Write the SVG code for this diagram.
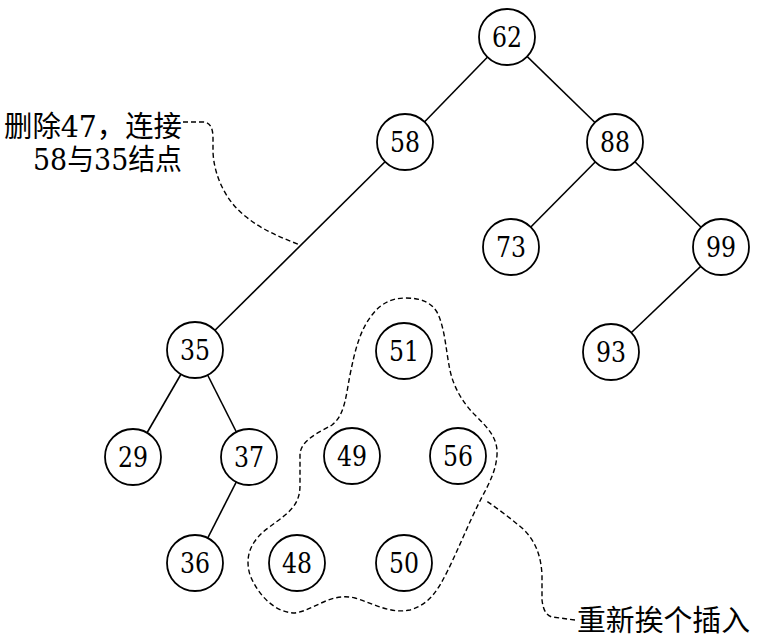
<svg xmlns="http://www.w3.org/2000/svg" width="768" height="643" viewBox="0 0 768 643">
<style>
.edge{stroke:#000;stroke-width:1.6;fill:none}
.dash{stroke:#000;stroke-width:1.4;fill:none;stroke-dasharray:5 3}
.node circle{fill:#fff;stroke:#000;stroke-width:1.8}
.node text{font-family:"DejaVu Serif",serif;font-size:27px;text-anchor:middle;fill:#000}
.lbl{font-family:"DejaVu Serif","Noto Sans CJK SC",serif;font-size:29px;fill:#000}
</style>
<rect width="768" height="643" fill="#fff"/>
<g id="connectors">
<line class="edge" x1="507" y1="37" x2="405" y2="142"/>
<line class="edge" x1="507" y1="37" x2="615" y2="142"/>
<line class="edge" x1="615" y1="142" x2="511" y2="247"/>
<line class="edge" x1="615" y1="142" x2="721" y2="247"/>
<line class="edge" x1="721" y1="247" x2="611" y2="352"/>
<line class="edge" x1="405" y1="142" x2="195" y2="350"/>
<line class="edge" x1="195" y1="350" x2="133" y2="457"/>
<line class="edge" x1="195" y1="350" x2="249" y2="457"/>
<line class="edge" x1="249" y1="457" x2="195" y2="563"/>
</g>
<g id="annotations">
<path class="dash" d="M183,122 L203,122 C210,122 213,128 213,138 L213,152 C214,175 225,200 245,216 C262,230 280,237 300,245"/>
<path class="dash" d="M575,620 L552,617 C545,615 543,608 542,600 L542,575 C541,555 535,540 522,528 C510,518 497,508 485,500"/>
<path id="group-blob" class="dash" d="M406,298 C420,298 432,302 438,314 C445,330 446,350 449,365 C452,385 462,402 475,415 C488,428 498,438 497,455 C496,470 490,482 482,497 C470,520 458,550 448,570 C438,590 430,604 410,610 C390,614 375,604 355,598 C330,592 315,610 295,613 C275,613 258,595 250,575 C244,555 252,540 268,528 C290,512 300,505 300,485 L300,455 C300,440 320,432 332,425 C345,415 346,395 350,375 C355,350 360,330 372,315 C382,302 393,298 406,298 Z"/>
<text class="lbl" x="4" y="137" textLength="178" lengthAdjust="spacingAndGlyphs">删除47，连接</text>
<text class="lbl" x="33" y="170" textLength="149" lengthAdjust="spacingAndGlyphs">58与35结点</text>
<text class="lbl" x="577" y="631" textLength="173" lengthAdjust="spacingAndGlyphs">重新挨个插入</text>
</g>
<g id="nodes">
<g id="n62" class="node"><circle cx="507" cy="37" r="28"/><text x="507" y="47" textLength="30" lengthAdjust="spacingAndGlyphs">62</text></g>
<g id="n58" class="node"><circle cx="405" cy="142" r="28"/><text x="405" y="152" textLength="30" lengthAdjust="spacingAndGlyphs">58</text></g>
<g id="n88" class="node"><circle cx="615" cy="142" r="28"/><text x="615" y="152" textLength="30" lengthAdjust="spacingAndGlyphs">88</text></g>
<g id="n73" class="node"><circle cx="511" cy="247" r="28"/><text x="511" y="257" textLength="30" lengthAdjust="spacingAndGlyphs">73</text></g>
<g id="n99" class="node"><circle cx="721" cy="247" r="28"/><text x="721" y="257" textLength="30" lengthAdjust="spacingAndGlyphs">99</text></g>
<g id="n93" class="node"><circle cx="611" cy="352" r="28"/><text x="611" y="362" textLength="30" lengthAdjust="spacingAndGlyphs">93</text></g>
<g id="n35" class="node"><circle cx="195" cy="350" r="28"/><text x="195" y="360" textLength="30" lengthAdjust="spacingAndGlyphs">35</text></g>
<g id="n51" class="node"><circle cx="404" cy="351" r="28"/><text x="404" y="361" textLength="30" lengthAdjust="spacingAndGlyphs">51</text></g>
<g id="n29" class="node"><circle cx="133" cy="457" r="28"/><text x="133" y="467" textLength="30" lengthAdjust="spacingAndGlyphs">29</text></g>
<g id="n37" class="node"><circle cx="249" cy="457" r="28"/><text x="249" y="467" textLength="30" lengthAdjust="spacingAndGlyphs">37</text></g>
<g id="n49" class="node"><circle cx="352" cy="456" r="28"/><text x="352" y="466" textLength="30" lengthAdjust="spacingAndGlyphs">49</text></g>
<g id="n56" class="node"><circle cx="458" cy="456" r="28"/><text x="458" y="466" textLength="30" lengthAdjust="spacingAndGlyphs">56</text></g>
<g id="n36" class="node"><circle cx="195" cy="563" r="28"/><text x="195" y="573" textLength="30" lengthAdjust="spacingAndGlyphs">36</text></g>
<g id="n48" class="node"><circle cx="297" cy="563" r="28"/><text x="297" y="573" textLength="30" lengthAdjust="spacingAndGlyphs">48</text></g>
<g id="n50" class="node"><circle cx="404" cy="563" r="28"/><text x="404" y="573" textLength="30" lengthAdjust="spacingAndGlyphs">50</text></g>
</g>
</svg>
